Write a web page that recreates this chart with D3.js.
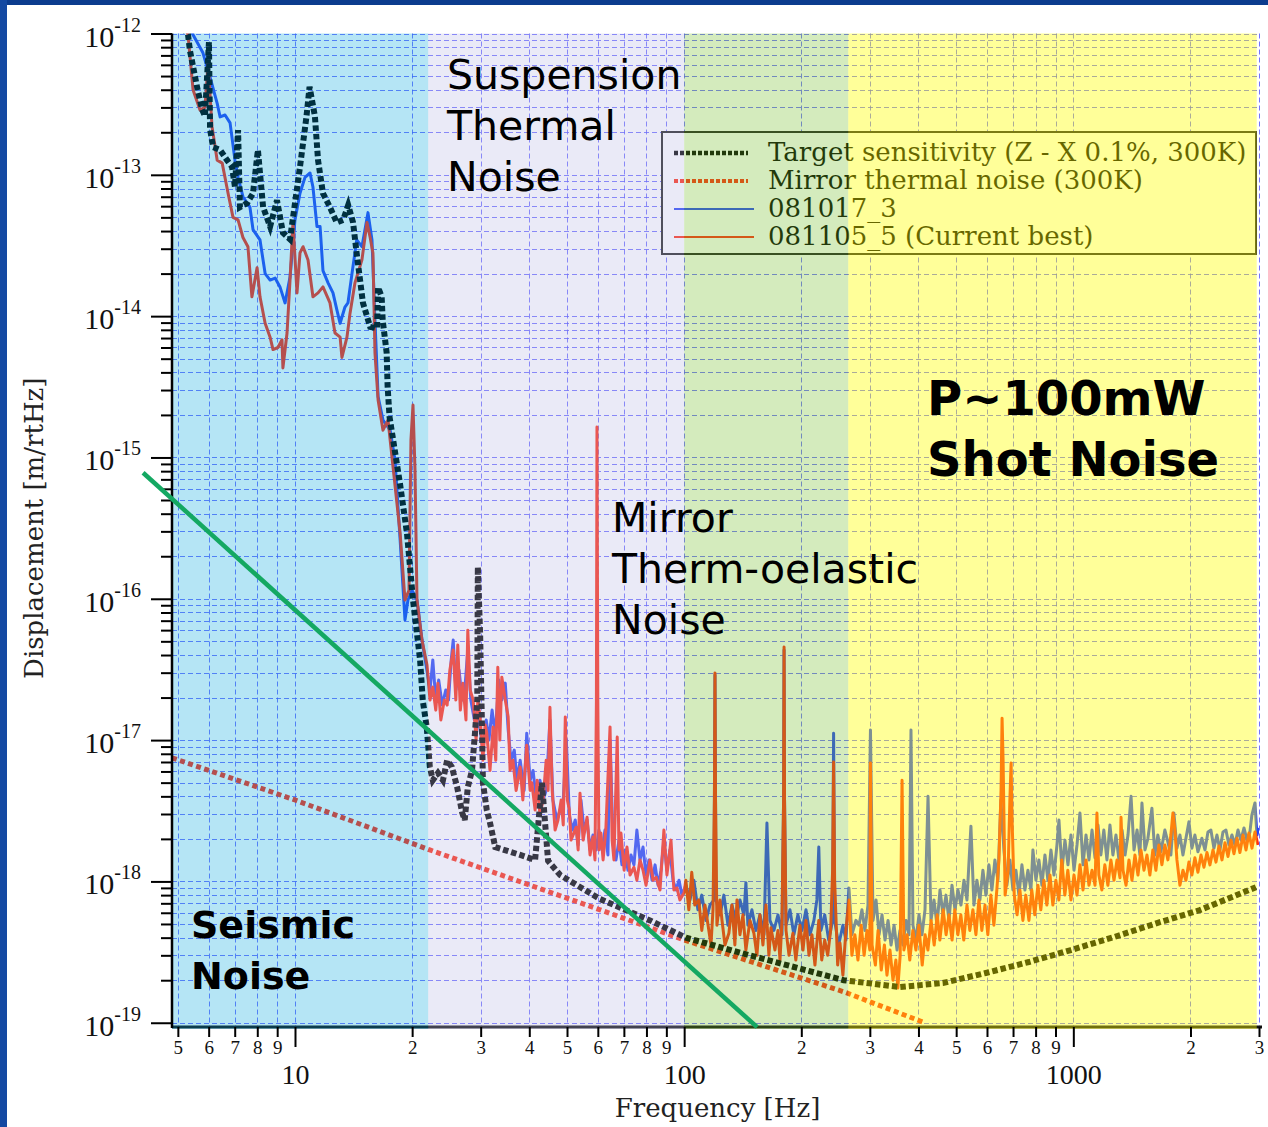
<!DOCTYPE html>
<html>
<head>
<meta charset="utf-8">
<script src="https://cdn.jsdelivr.net/npm/d3@7"></script>
<style>
  html, body { margin: 0; padding: 0; background: #fff; }
  svg { display: block; }
</style>
</head>
<body>
<div id="chart"></div>
<script>
// ---------- data ----------
const xMajorTicks = [10, 100, 1000];
const xMinorTicks = [5, 6, 7, 8, 9, 20, 30, 40, 50, 60, 70, 80, 90, 200, 300, 400, 500, 600, 700, 800, 900, 2000, 3000];
const xMinorLabels = ["5", "6", "7", "8", "9", "2", "3", "4", "5", "6", "7", "8", "9", "2", "3", "4", "5", "6", "7", "8", "9", "2", "3"];
const yDecadeTicks = [1e-19, 1e-18, 1e-17, 1e-16, 1e-15, 1e-14, 1e-13, 1e-12];
const yExponentLabels = ["-19", "-18", "-17", "-16", "-15", "-14", "-13", "-12"];
const minorMultipliers = [2, 3, 4, 5, 6, 7, 8, 9];

// noise regions shaded over the plot (Hz)
const bandEdges = [4.83, 22, 100, 264, 2960];
const bandFills = ["rgba(0,166,221,0.29)", "rgba(187,187,227,0.30)", "rgba(112,188,35,0.30)", "rgba(255,255,0,0.40)"];

const legendLabels = ["Target sensitivity (Z - X 0.1%, 300K)", "Mirror thermal noise (300K)", "081017_3", "081105_5 (Current best)"];

// [frequency Hz, displacement m/rtHz]
const target = [
  [5.15,1.1e-12],[5.31,9.8e-13],[5.37,7.6e-13],[5.60,4.2e-13],[5.77,2.9e-13],[5.87,2.6e-13],[6.01,8.7e-13],[6.05,2.1e-13],
  [6.16,1.57e-13],[6.42,1.50e-13],[6.69,1.27e-13],[6.89,1.14e-13],[7.01,8.2e-14],[7.14,2.07e-13],[7.22,5.9e-14],[7.53,6.3e-14],
  [7.80,7.4e-14],[8.03,1.50e-13],[8.28,5.9e-14],[8.63,4.3e-14],[8.99,6.6e-14],[9.31,3.9e-14],[9.71,3.5e-14],[10.0,6.3e-14],
  [10.3,1.14e-13],[10.7,2.57e-13],[10.9,4.2e-13],[11.25,2.6e-13],[11.46,1.27e-13],[11.8,7.4e-14],[12.3,5.9e-14],[12.8,4.6e-14],
  [13.3,4.8e-14],[13.7,6.1e-14],[14.1,4.6e-14],[14.4,2.8e-14],[14.95,1.24e-14],[15.6,8.4e-15],[16.25,8.2e-15],[16.35,1.6e-14],
  [16.7,1.37e-14],[16.8,9.4e-15],[17.2,5.5e-15],[17.3,3.15e-15],[17.5,1.93e-15],[18.6,6.6e-16],[19.4,2.9e-16],[20.1,9.8e-17],
  [20.96,3.7e-17],[21.3,1.9e-17],[21.8,1.24e-17],[22.2,6.5e-18],[22.6,5.2e-18],[23.3,5.85e-18],[24.0,5.2e-18],[24.6,7.2e-18],
  [25.3,6.45e-18],[26.1,4.65e-18],[26.9,3.05e-18],[27.3,2.72e-18],[27.8,4.65e-18],[28.5,6.1e-18],[29.0,1.12e-17],[29.4,1.9e-17],
  [29.5,1.68e-16],[29.9,5.7e-17],[30.2,1.46e-17],[30.4,5.0e-18],[31.1,3.2e-18],[31.7,2.6e-18],[32.7,1.75e-18],[37.9,1.54e-18],
  [41.4,1.42e-18],[43.1,5.0e-18],[44.7,1.4e-18],[48.0,1.11e-18],[60.8,7.5e-19],[81.7,5.3e-19],[101,4.0e-19],[147.6,3.0e-19],
  [257,2.0e-19],[358,1.79e-19],[462,1.91e-19],[596,2.25e-19],[769,2.69e-19],[986,3.27e-19],[1272,4.04e-19],[1640,5.07e-19],
  [2115,6.27e-19],[2946,9.1e-19]
];

const mirrorThermal = [
  [4.83,7.5e-18],[10,3.77e-18],[22.2,1.67e-18],[60.8,6.3e-19],[100,3.85e-19],[258,1.65e-19],[415,1.0e-19]
];

const seismicLine = [[4.07,7.8e-16],[154,9.3e-20]];

const run081017 = [
  [5.37,1.15e-12],[5.47,9.8e-13],[5.80,7.3e-13],[6.05,4.9e-13],[6.31,3.2e-13],[6.42,2.57e-13],[6.61,2.65e-13],[6.81,2.33e-13],
  [7.01,1.27e-13],[7.14,9.6e-14],[7.35,7.0e-14],[7.66,5.9e-14],[7.80,4.1e-14],[8.13,3.46e-14],[8.38,2.0e-14],[8.63,1.8e-14],
  [8.89,1.86e-14],[9.15,1.61e-14],[9.43,1.24e-14],[9.71,1.89e-14],[10.0,4.8e-14],[10.30,7.4e-14],[10.61,9.6e-14],[10.93,1.03e-13],
  [11.12,8.2e-14],[11.39,4.3e-14],[11.60,4.3e-14],[11.80,2.1e-14],[12.16,1.72e-14],[12.52,1.46e-14],[12.82,1.1e-14],[13.06,8.9e-15],
  [13.44,1.16e-14],[13.68,1.24e-14],[14.01,2.0e-14],[14.41,3.46e-14],[14.86,3.1e-14],[15.40,5.4e-14],[15.77,3.46e-14],[16.05,9.4e-15],
  [16.35,2.7e-15],[16.83,1.84e-15],[17.56,1.56e-15],[18.07,9.6e-16],[18.63,2.6e-16],[19.17,7.1e-17],[19.51,9.8e-17],[19.98,1.15e-16],
  [20.58,9.8e-17],[21.20,5.1e-17],[21.84,3.1e-17],[22.23,2.26e-17],
  [22.6,3.69e-17],[23.0,1.92e-17],[23.4,2.66e-17],[23.9,1.77e-17],[24.4,2.26e-17],[24.8,1.92e-17],[25.2,3.69e-17],[25.5,5.1e-17],
  [25.9,2.26e-17],[26.4,3.13e-17],[26.9,1.92e-17],[27.3,2.26e-17],[27.8,4.34e-17],[28.3,1.92e-17],[28.9,1.39e-17],[29.4,1.63e-17],
  [29.9,1.18e-17],[30.4,8.5e-18],[31.0,1.39e-17],[31.5,1.0e-17],[32.1,1.63e-17],[32.7,1.09e-17],[33.4,2.66e-17],[34.0,1.92e-17],
  [34.7,2.53e-17],[35.3,1.18e-17],[35.9,7.2e-18],[36.6,8.5e-18],[37.2,5.2e-18],[37.9,7.2e-18],[38.8,4.4e-18],[39.4,1.12e-17],
  [40.2,5.2e-18],[40.9,6.1e-18],[41.7,3.77e-18],[42.6,5.2e-18],[43.4,3.77e-18],[44.2,4.4e-18],[45.2,1.39e-17],[46.0,3.77e-18],
  [47.1,2.72e-18],[48.0,3.2e-18],[48.9,3.77e-18],[49.8,1.0e-17],[50.7,2.95e-18],[51.6,2.31e-18],[52.5,2.72e-18],[53.4,1.81e-18],
  [54.3,3.77e-18],[55.3,2.31e-18],[56.3,2.72e-18],[57.3,1.67e-18],[58.3,2.13e-18],[59.4,1.67e-18],[60.4,2.31e-18],[61.5,1.67e-18],
  [62.6,2.31e-18],[63.7,1.54e-18],[64.5,1.0e-17],[65.7,1.81e-18],[66.8,1.42e-18],[68.0,1.96e-18],[69.2,1.31e-18],[70.5,1.67e-18],
  [71.7,1.2e-18],[73.0,1.54e-18],[74.3,1.31e-18],[75.6,2.31e-18],[77.0,1.42e-18],[78.4,1.75e-18],[79.8,1.11e-18],[81.2,1.42e-18],
  [82.7,1.02e-18],[84.2,1.31e-18],[85.7,9.4e-19],[87.2,1.2e-18],[88.7,1.96e-18],[90.3,1.2e-18],[91.9,1.67e-18],[93.6,1.02e-18],
  [95.3,8.7e-19],[97.0,1.02e-18],[98.7,8.0e-19],
  [101,9.4e-19],[103.5,7.4e-19],[105.9,1.02e-18],[108.5,6.3e-19],[111.0,8.0e-19],[113.8,5.3e-19],[116.5,6.8e-19],[119.3,7.4e-19],
  [120.0,2.89e-17],[120.7,7.4e-19],[123.6,5.8e-19],[126.5,8.0e-19],[129.6,4.9e-19],[132.7,6.8e-19],[135.8,5.3e-19],[139.1,7.4e-19],
  [142.4,5.8e-19],[144.1,9.8e-19],[145.8,4.9e-19],[149.3,6.3e-19],[152.9,4.5e-19],[156.6,5.8e-19],[160.3,4.2e-19],[163.2,2.59e-18],
  [166.1,5.3e-19],[170.1,4.5e-19],[174.2,5.8e-19],[178.4,4.2e-19],[180.1,3.8e-18],[180.6,4.34e-17],[181.1,3.8e-18],[182.7,4.9e-19],
  [187.0,6.3e-19],[191.4,4.2e-19],[196.0,5.8e-19],[200.8,4.5e-19],[205.6,6.3e-19],[210.5,4.2e-19],[215.5,5.3e-19],[219.3,7.4e-19],
  [221.8,1.75e-18],[224.6,4.5e-19],[229.7,5.8e-19],[235.2,3.85e-19],[240.7,5.3e-19],[242.1,1.12e-17],[243.6,5.3e-19],[249.4,3.55e-19],
  [255.8,4.9e-19],[260.4,3.85e-19],[265.1,9.0e-19],[269.8,4.2e-19],[276.3,5.3e-19],
  [281.3,4.9e-19],[286.3,6.3e-19],[291.4,4.5e-19],[296.7,6.8e-19],[301.1,1.18e-17],[305.7,5.3e-19],[311.2,7.4e-19],[316.8,4.2e-19],
  [322.4,5.8e-19],[328.2,3.85e-19],[334.1,5.3e-19],[340.1,3.55e-19],[346.2,4.9e-19],[352.4,3.27e-19],[358.6,4.5e-19],[365.0,3.55e-19],
  [371.6,5.3e-19],[378.2,4.2e-19],[382.7,1.18e-17],[387.2,4.9e-19],[394.1,3.85e-19],[401.3,5.8e-19],[408.5,4.2e-19],[415.8,6.3e-19],
  [423.3,4.0e-18],[430.8,5.3e-19],[438.5,7.4e-19],[446.4,4.9e-19],[454.4,8.7e-19],[462.5,5.8e-19],[470.8,8.0e-19],[479.2,5.3e-19],
  [487.8,9.4e-19],[496.5,6.3e-19],[505.4,8.7e-19],[514.4,6.8e-19],[523.6,1.02e-18],[533.0,7.4e-19],[545.6,2.46e-18],[555.4,6.8e-19],
  [565.3,1.02e-18],[575.4,7.4e-19],[585.7,1.2e-18],[596.2,8.0e-19],[606.9,1.31e-18],[617.8,8.7e-19],[628.8,1.42e-18],[640.1,1.02e-18],
  [651.5,3.77e-18],[663.2,1.67e-18],[675.1,9.4e-19],[687.2,1.42e-18],[699.5,8.7e-19],[712.1,1.2e-18],[724.8,8.0e-19],[737.8,1.31e-18],
  [751.0,8.7e-19],[764.5,1.2e-18],[778.2,8.7e-19],[787.4,1.67e-18],[801.5,1.02e-18],[815.8,1.42e-18],[830.5,9.4e-19],[845.4,1.54e-18],
  [860.6,1.02e-18],[876.0,1.67e-18],[891.8,1.11e-18],[907.7,1.81e-18],[918.5,2.72e-18],[934.9,1.2e-18],[951.7,1.96e-18],[968.8,1.31e-18],
  [986.2,2.13e-18],[1004,1.2e-18],[1022,1.81e-18],[1040,3.05e-18],[1059,1.31e-18],[1078,2.13e-18],[1097,1.42e-18],[1117,2.31e-18],
  [1137,1.47e-18],[1157,2.51e-18],[1177,1.54e-18],[1198,2.31e-18],[1220,1.42e-18],[1242,2.51e-18],[1264,1.54e-18],[1287,2.13e-18],
  [1310,1.42e-18],[1334,2.31e-18],[1358,1.54e-18],[1382,2.13e-18],[1407,4.0e-18],[1432,1.67e-18],[1458,2.31e-18],[1483,1.54e-18],
  [1501,3.59e-18],[1528,1.67e-18],[1555,2.02e-18],[1592,3.3e-18],[1620,1.54e-18],[1649,2.13e-18],[1679,1.62e-18],[1719,2.31e-18],
  [1750,1.9e-18],[1781,1.54e-18],[1813,3.05e-18],[1846,1.72e-18],[1879,2.13e-18],[1913,1.54e-18],[1947,2.02e-18],[1982,2.64e-18],
  [2017,1.72e-18],[2053,2.13e-18],[2090,1.62e-18],[2140,2.02e-18],[2179,1.67e-18],[2218,2.24e-18],[2257,2.31e-18],[2298,1.72e-18],
  [2339,2.13e-18],[2381,1.67e-18],[2424,2.24e-18],[2467,2.31e-18],[2511,1.81e-18],[2556,2.13e-18],[2602,1.81e-18],[2649,2.31e-18],
  [2696,1.96e-18],[2745,2.39e-18],[2794,1.96e-18],[2843,2.24e-18],[2876,2.95e-18],[2929,3.59e-18],[2964,2.13e-18],[2999,2.39e-18]
];

const run081105 = [
  [5.19,1.15e-12],[5.31,9.8e-13],[5.47,4.0e-13],[5.70,2.87e-13],[5.87,3.0e-13],[5.98,6.2e-13],[6.12,2.2e-13],[6.31,1.27e-13],
  [6.50,1.21e-13],[6.73,7.4e-14],[6.93,5.0e-14],[7.14,4.8e-14],[7.35,3.6e-14],[7.57,3.1e-14],[7.75,1.37e-14],[7.99,2.2e-14],
  [8.13,1.37e-14],[8.38,8.9e-15],[8.63,7.1e-15],[8.78,5.8e-15],[9.04,6.0e-15],[9.26,6.8e-15],[9.31,4.3e-15],[9.54,7.6e-15],
  [9.71,1.8e-14],[9.88,4.6e-14],[10.12,1.46e-14],[10.30,2.8e-14],[10.49,3.1e-14],[10.80,2.5e-14],[11.12,1.37e-14],[11.46,1.46e-14],
  [11.80,1.61e-14],[12.30,1.24e-14],[12.67,7.6e-15],[13.06,7.1e-15],[13.20,5.1e-15],[13.60,7.1e-15],[13.85,1.05e-14],[14.26,1.72e-14],
  [14.86,2.5e-14],[15.31,4.6e-14],[15.60,3.6e-14],[15.86,2.8e-14],[16.05,5.5e-15],[16.35,2.55e-15],[16.83,1.56e-15],[17.34,1.84e-15],
  [17.86,8.6e-16],[18.63,2.9e-16],[19.17,9.8e-17],[19.63,1.15e-16],[19.86,1.33e-15],[20.10,2.35e-15],[20.34,8.2e-16],[20.58,9.8e-17],
  [21.20,5.1e-17],[21.84,3.4e-17],[22.23,1.92e-17],
  [22.6,2.37e-17],[23.0,1.63e-17],[23.3,2.53e-17],[23.7,1.39e-17],[24.2,1.92e-17],[24.6,1.77e-17],[25.0,3.13e-17],[25.5,4.34e-17],
  [25.9,1.92e-17],[26.2,4.71e-17],[26.6,1.63e-17],[27.0,2.53e-17],[27.5,1.39e-17],[27.8,6.0e-17],[28.2,2.26e-17],[28.7,1.92e-17],
  [29.2,1.0e-17],[29.5,1.92e-17],[29.9,1.46e-17],[30.4,7.2e-18],[30.8,1.28e-17],[31.1,1.12e-17],[31.7,6.1e-18],[32.3,1.24e-17],
  [32.8,7.2e-18],[33.2,3.28e-17],[33.6,1.0e-17],[34.0,2.79e-17],[34.7,1.92e-17],[35.3,1.46e-17],[35.7,6.1e-18],[36.3,7.2e-18],
  [37.0,4.4e-18],[37.9,6.45e-18],[38.5,3.77e-18],[39.4,9.2e-18],[40.2,4.4e-18],[40.6,5.0e-18],[41.4,3.2e-18],[41.9,5.2e-18],
  [42.6,2.95e-18],[43.4,3.77e-18],[44.2,7.2e-18],[44.7,4.4e-18],[45.2,1.71e-17],[45.8,4.4e-18],[46.6,2.31e-18],[47.4,2.72e-18],
  [48.3,3.77e-18],[48.9,2.51e-18],[49.5,1.46e-17],[50.1,3.77e-18],[50.7,3.2e-18],[51.2,1.96e-18],[52.8,2.42e-18],[53.4,1.67e-18],
  [54.0,4.2e-18],[55.0,1.96e-18],[56.3,2.85e-18],[57.3,1.54e-18],[58.3,2.06e-18],[59.0,1.42e-18],[59.5,1.9e-17],[59.7,1.64e-15],
  [60.0,1.9e-17],[60.4,1.67e-18],[61.1,2.2e-18],[61.9,1.42e-18],[62.9,2.31e-18],[64.5,1.24e-17],[65.3,1.96e-18],[66.0,1.42e-18],
  [67.3,1.05e-17],[68.0,1.67e-18],[68.8,2.2e-18],[70.1,1.2e-18],[71.3,1.75e-18],[72.6,1.11e-18],[74.3,1.26e-18],[75.6,1.02e-18],
  [77.0,1.42e-18],[78.4,1.2e-18],[79.8,9.4e-19],[81.7,1.42e-18],[83.2,1.02e-18],[84.7,1.07e-18],[86.7,8.7e-19],[88.7,2.31e-18],
  [90.3,1.11e-18],[92.5,1.96e-18],[94.1,8.7e-19],[95.8,9.0e-19],[97.5,7.4e-19],[99.9,8.3e-19],
  [101,1.02e-18],[102.8,6.3e-19],[104.6,1.16e-18],[106.5,6.8e-19],[109.0,7.4e-19],[111.0,4.5e-19],[113.1,6.8e-19],[115.2,4.9e-19],
  [117.2,3.55e-19],[118.6,6.3e-19],[119.6,3.8e-18],[120.0,2.98e-17],[120.4,3.8e-18],[121.4,4.9e-19],[123.6,7.4e-19],[125.1,5.3e-19],
  [127.3,3.55e-19],[130.3,4.3e-19],[132.7,6.8e-19],[135.0,3.55e-19],[136.7,7.4e-19],[139.1,4.2e-19],[141.6,5.8e-19],[144.1,3.27e-19],
  [147.6,5.3e-19],[151.1,4.3e-19],[153.8,3.0e-19],[156.6,5.8e-19],[159.4,3.55e-19],[162.3,6.8e-19],[165.1,3.0e-19],[167.1,4.7e-19],
  [171.1,3.27e-19],[174.2,4.5e-19],[176.3,2.78e-19],[178.4,5.3e-19],[180.1,3.8e-18],[180.6,4.56e-17],[181.1,3.8e-18],[182.7,4.5e-19],
  [186.0,3.0e-19],[190.3,4.3e-19],[193.6,2.78e-19],[198.4,4.9e-19],[202.0,3.27e-19],[205.6,5.3e-19],[209.3,3.0e-19],[213.0,4.2e-19],
  [216.8,2.56e-19],[221.8,5.3e-19],[225.7,2.78e-19],[229.7,3.85e-19],[233.8,3.0e-19],[237.9,4.5e-19],[240.7,1.2e-18],[242.1,7.0e-18],
  [243.6,1.02e-18],[248.0,2.56e-19],[251.4,3.67e-19],[255.8,2.17e-19],[260.4,4.5e-19],[265.1,7.4e-19],[269.8,3.0e-19],[274.6,4.2e-19],
  [279.6,2.78e-19],
  [285,4.9e-19],[290,3.0e-19],[295,4.5e-19],[300,3.27e-19],[301,6.9e-18],[304,3.55e-19],[310,2.56e-19],[315,4.5e-19],
  [321,2.36e-19],[327,3.55e-19],[332,2.17e-19],[338,3.27e-19],[344,2.0e-19],[350,2.78e-19],[354,1.76e-19],[359,3.0e-19],
  [363,5.2e-18],[367,3.27e-19],[374,4.2e-19],[380,2.78e-19],[387,4.5e-19],[394,3.27e-19],[401,4.9e-19],[409,2.56e-19],
  [416,4.2e-19],[423,3.27e-19],[431,5.3e-19],[439,3.55e-19],[447,5.8e-19],[454,3.85e-19],[463,6.3e-19],[471,4.2e-19],
  [479,5.8e-19],[488,3.85e-19],[496,6.3e-19],[505,4.2e-19],[514,5.8e-19],[523,3.85e-19],[533,6.8e-19],[542,4.5e-19],
  [552,6.3e-19],[562,4.2e-19],[572,7.4e-19],[582,4.5e-19],[593,6.8e-19],[603,4.2e-19],[614,8.0e-19],[625,4.9e-19],
  [636,8.7e-19],[644,1.42e-18],[652,4.4e-18],[656,1.43e-17],[660,7.2e-18],[668,8.0e-19],[680,1.2e-18],[687,3.77e-18],
  [692,6.9e-18],[696,2.72e-18],[705,8.0e-19],[717,5.8e-19],[729,8.7e-19],[742,5.3e-19],[755,8.0e-19],[769,5.3e-19],
  [782,8.7e-19],[796,5.8e-19],[811,9.4e-19],[825,6.3e-19],[840,1.02e-18],[855,6.8e-19],[871,1.11e-18],[886,6.8e-19],
  [902,1.02e-18],[918,7.4e-19],[934,1.42e-18],[951,8.0e-19],[968,1.2e-18],[986,7.4e-19],[1004,1.11e-18],[1022,8.0e-19],
  [1040,1.31e-18],[1059,8.7e-19],[1078,1.42e-18],[1097,9.4e-19],[1117,1.2e-18],[1137,9.4e-19],[1150,3.05e-18],[1163,1.11e-18],
  [1184,8.7e-19],[1205,1.31e-18],[1227,9.4e-19],[1249,1.42e-18],[1272,1.02e-18],[1295,1.42e-18],[1318,1.06e-18],[1326,2.85e-18],
  [1342,1.2e-18],[1366,9.4e-19],[1390,1.42e-18],[1415,1.02e-18],[1440,1.54e-18],[1466,1.11e-18],[1492,1.67e-18],[1519,1.2e-18],
  [1546,1.54e-18],[1573,1.11e-18],[1601,1.67e-18],[1630,1.2e-18],[1659,1.81e-18],[1689,1.31e-18],[1719,1.81e-18],[1750,1.42e-18],
  [1781,2.13e-18],[1803,3.05e-18],[1824,2.31e-18],[1846,1.42e-18],[1879,9.4e-19],[1913,1.2e-18],[1947,1.02e-18],[1982,1.37e-18],
  [2017,1.11e-18],[2053,1.47e-18],[2090,1.16e-18],[2128,1.54e-18],[2166,1.26e-18],[2205,1.6e-18],[2244,1.31e-18],[2285,1.67e-18],
  [2326,1.37e-18],[2367,1.78e-18],[2410,1.42e-18],[2453,1.88e-18],[2497,1.5e-18],[2542,1.96e-18],[2587,1.57e-18],[2634,2.02e-18],
  [2680,1.6e-18],[2729,2.13e-18],[2778,1.67e-18],[2827,2.2e-18],[2878,1.72e-18],[2929,2.24e-18],[2981,1.81e-18]
];

// ---------- layout ----------
const width = 1268;
const height = 1127;
const plotLeft = 172;
const plotRight = 1259;
const plotTop = 33.5;
const plotBottom = 1027;

const x = d3.scaleLog().domain([4.83, 3000]).range([plotLeft, plotRight]);
const y = d3.scaleLog().domain([9.33e-20, 1e-12]).range([plotBottom, plotTop]);

const svg = d3.select("#chart")
  .append("svg")
  .attr("width", width)
  .attr("height", height)
  .attr("viewBox", [0, 0, width, height]);

// slide background + blue frame
svg.append("rect").attr("width", width).attr("height", height).attr("fill", "#fff");
svg.append("rect").attr("width", width).attr("height", 5).attr("fill", "#0c3c8e");
svg.append("rect").attr("width", 7).attr("height", height).attr("fill", "#1449a2");

svg.append("defs").append("clipPath").attr("id", "plotClip")
  .append("rect")
  .attr("x", plotLeft).attr("y", plotTop)
  .attr("width", plotRight - plotLeft).attr("height", plotBottom - plotTop);

// dashed grid at every tick
const yGridValues = yDecadeTicks.flatMap((d, i) => i < yDecadeTicks.length - 1 ? [d, ...minorMultipliers.map(m => m * d)] : [d]);
const xGridValues = [...xMinorTicks, ...xMajorTicks];

const grid = svg.append("g")
  .attr("stroke", "rgb(80,80,255)")
  .attr("stroke-opacity", 0.8)
  .attr("stroke-width", 1)
  .attr("stroke-dasharray", "5,3");

grid.selectAll("line.h")
  .data(yGridValues)
  .join("line")
  .attr("class", "h")
  .attr("x1", plotLeft).attr("x2", plotRight)
  .attr("y1", d => Math.round(y(d)) + 0.5)
  .attr("y2", d => Math.round(y(d)) + 0.5);

grid.selectAll("line.v")
  .data(xGridValues)
  .join("line")
  .attr("class", "v")
  .attr("y1", plotTop).attr("y2", plotBottom)
  .attr("x1", d => Math.round(x(d)) + 0.5)
  .attr("x2", d => Math.round(x(d)) + 0.5);

// curves
const line = d3.line().x(d => x(d[0])).y(d => y(d[1]));
const plot = svg.append("g").attr("clip-path", "url(#plotClip)").attr("fill", "none");

plot.append("path").datum(run081017)
  .attr("stroke", "rgb(40,70,245)").attr("stroke-width", 3).attr("stroke-linejoin", "round")
  .attr("d", line);

plot.append("path").datum(run081105)
  .attr("stroke", "rgb(255,45,20)").attr("stroke-width", 3).attr("stroke-linejoin", "round")
  .attr("d", line);

plot.append("path").datum(mirrorThermal)
  .attr("stroke", "rgb(255,45,20)").attr("stroke-width", 5).attr("stroke-dasharray", "5,3.5")
  .attr("d", line);

plot.append("path").datum(target)
  .attr("stroke", "#000").attr("stroke-width", 6).attr("stroke-dasharray", "5.5,3")
  .attr("d", line);

// legend (white box, sits under the shaded regions like the original)
const legend = svg.append("g").attr("transform", "translate(662,132)");
legend.append("rect")
  .attr("width", 594).attr("height", 122)
  .attr("fill", "#fff").attr("stroke", "#222").attr("stroke-width", 2);

const legendStyles = [
  { stroke: "#000", width: 4.5, dash: "4,2" },
  { stroke: "rgb(255,45,20)", width: 4, dash: "4,2" },
  { stroke: "rgb(40,70,245)", width: 2.2, dash: null },
  { stroke: "rgb(255,45,20)", width: 2.2, dash: null }
];

legend.selectAll("line")
  .data(legendLabels)
  .join("line")
  .attr("x1", 12).attr("x2", (d, i) => i < 2 ? 86 : 92)
  .attr("y1", (d, i) => 21 + i * 28).attr("y2", (d, i) => 21 + i * 28)
  .attr("stroke", (d, i) => legendStyles[i].stroke)
  .attr("stroke-width", (d, i) => legendStyles[i].width)
  .attr("stroke-dasharray", (d, i) => legendStyles[i].dash);

legend.selectAll("text")
  .data(legendLabels)
  .join("text")
  .attr("x", 106)
  .attr("y", (d, i) => 29 + i * 28)
  .attr("font-family", "DejaVu Serif")
  .attr("font-size", 26)
  .attr("fill", "#000")
  .text(d => d);

// x axis line (shaded with the regions)
svg.append("line")
  .attr("x1", plotLeft).attr("x2", plotRight + 3)
  .attr("y1", plotBottom).attr("y2", plotBottom)
  .attr("stroke", "#111").attr("stroke-width", 3);

// shaded noise regions
svg.append("g")
  .selectAll("rect")
  .data(bandFills)
  .join("rect")
  .attr("x", (d, i) => x(bandEdges[i]))
  .attr("width", (d, i) => x(bandEdges[i + 1]) - x(bandEdges[i]))
  .attr("y", plotTop)
  .attr("height", plotBottom - plotTop + 2)
  .attr("fill", d => d);

// x axis ticks and labels
svg.append("g")
  .attr("transform", `translate(0,${plotBottom})`)
  .call(d3.axisBottom(x).tickValues(xMinorTicks).tickSize(10).tickPadding(3.5).tickFormat((d, i) => xMinorLabels[i]))
  .call(g => g.select(".domain").remove())
  .call(g => g.selectAll("line").attr("stroke-width", 2))
  .attr("font-family", "Liberation Serif")
  .attr("font-size", 19)
  .call(g => g.selectAll("text").attr("fill", "#111"));

svg.append("g")
  .attr("transform", `translate(0,${plotBottom})`)
  .call(d3.axisBottom(x).tickValues(xMajorTicks).tickSize(20).tickPadding(17).tickFormat(d3.format("d")))
  .call(g => g.select(".domain").remove())
  .call(g => g.selectAll("line").attr("stroke-width", 2))
  .attr("font-family", "Liberation Serif")
  .attr("font-size", 28)
  .call(g => g.selectAll("text").attr("fill", "#111"));

// y axis ticks
const yMinorTicks = yGridValues.filter(d => !yDecadeTicks.includes(d));

svg.append("g")
  .attr("transform", `translate(${plotLeft},0)`)
  .call(d3.axisLeft(y).tickValues(yMinorTicks).tickSize(11).tickFormat(""))
  .call(g => g.select(".domain").remove())
  .call(g => g.selectAll("line").attr("stroke-width", 2));

svg.append("g")
  .attr("transform", `translate(${plotLeft},0)`)
  .call(d3.axisLeft(y).tickValues(yDecadeTicks).tickSize(21).tickFormat(""))
  .call(g => g.select(".domain").remove())
  .call(g => g.selectAll("line").attr("stroke-width", 2));

svg.append("line")
  .attr("x1", plotLeft).attr("x2", plotLeft)
  .attr("y1", plotTop).attr("y2", plotBottom + 1)
  .attr("stroke", "#000").attr("stroke-width", 2.5);

// y tick labels as 10^n
const yLabels = svg.append("g")
  .attr("font-family", "Liberation Serif")
  .attr("fill", "#111")
  .attr("text-anchor", "end");

const yLabel = yLabels.selectAll("text")
  .data(yDecadeTicks)
  .join("text")
  .attr("x", plotLeft - 31)
  .attr("y", d => y(d) + 13);

yLabel.append("tspan").attr("font-size", 30).text("10");
yLabel.append("tspan").attr("font-size", 20).attr("dy", -15).text((d, i) => yExponentLabels[i]);

// axis titles
svg.append("text")
  .attr("x", (plotLeft + plotRight) / 2 + 2)
  .attr("y", 1117)
  .attr("text-anchor", "middle")
  .attr("font-family", "DejaVu Serif")
  .attr("font-size", 26)
  .attr("fill", "#222")
  .text("Frequency [Hz]");

svg.append("text")
  .attr("transform", `translate(43,${(plotTop + plotBottom) / 2 - 2}) rotate(-90)`)
  .attr("text-anchor", "middle")
  .attr("font-family", "DejaVu Serif")
  .attr("font-size", 26)
  .attr("fill", "#222")
  .text("Displacement [m/rtHz]");

// region annotations
const notes = [
  { lines: ["Suspension", "Thermal", "Noise"], x: 447, y: 89, size: 41, weight: "normal", step: 51 },
  { lines: ["Mirror", "Therm-oelastic", "Noise"], x: 612, y: 532, size: 41, weight: "normal", step: 51 },
  { lines: ["P~100mW", "Shot Noise"], x: 927, y: 415, size: 48, weight: "bold", step: 61 },
  { lines: ["Seismic", "Noise"], x: 191, y: 938, size: 38, weight: "bold", step: 51 }
];

notes.forEach(n => {
  svg.append("text")
    .attr("font-family", "DejaVu Sans")
    .attr("font-size", n.size)
    .attr("font-weight", n.weight)
    .attr("fill", "#000")
    .selectAll("tspan")
    .data(n.lines)
    .join("tspan")
    .attr("x", n.x)
    .attr("y", (d, i) => n.y + i * n.step)
    .text(d => d);
});

// seismic noise slope, drawn on top and past the axis like the original
svg.append("path")
  .datum(seismicLine)
  .attr("fill", "none")
  .attr("stroke", "#14a862")
  .attr("stroke-width", 4.5)
  .attr("d", line);
</script>
</body>
</html>
